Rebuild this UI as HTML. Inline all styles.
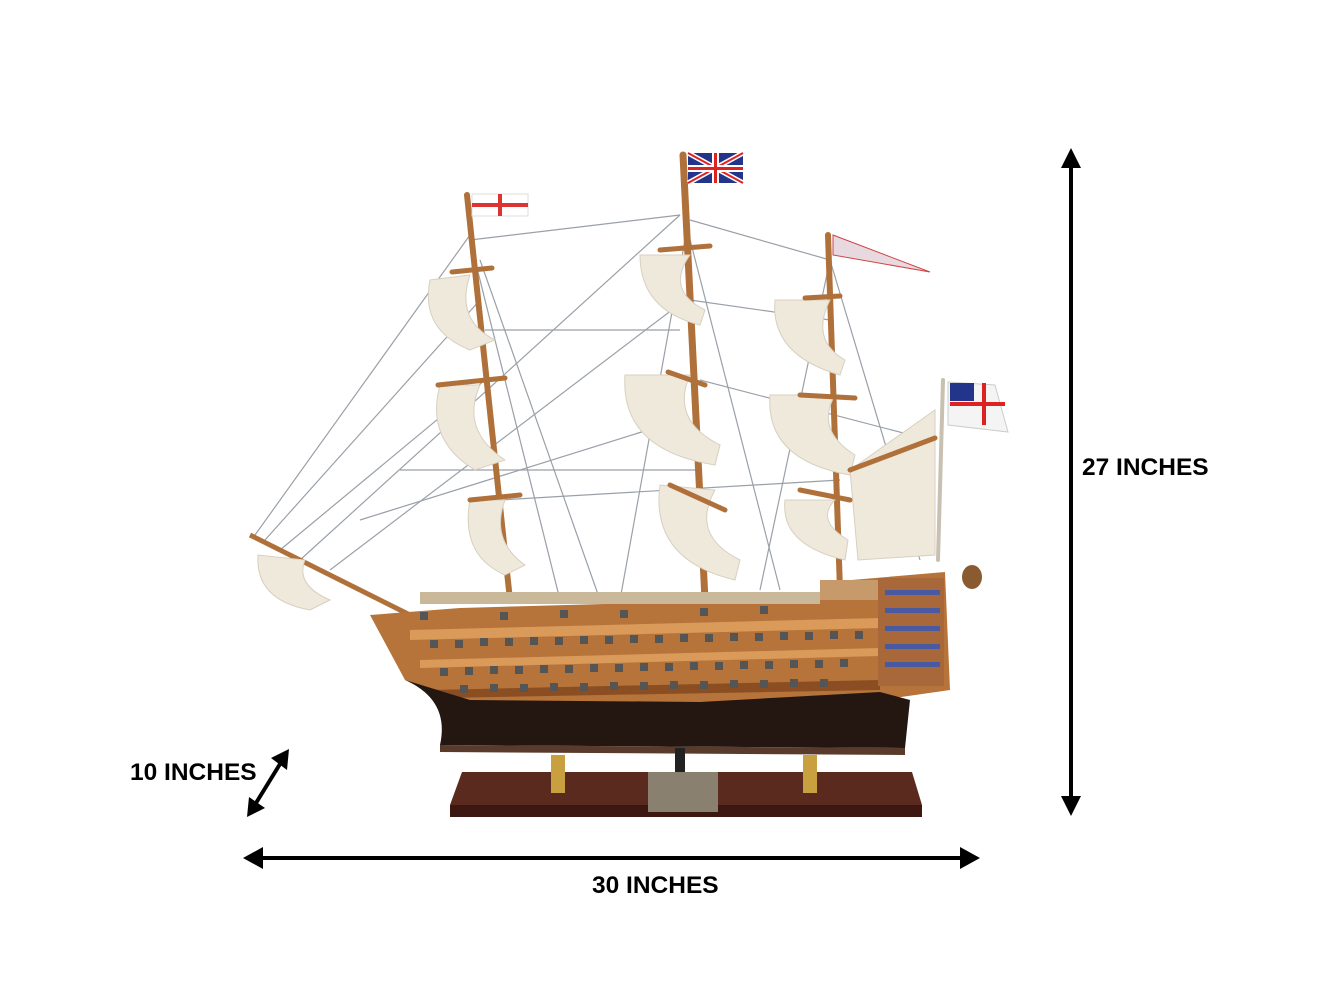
<!DOCTYPE html>
<html><head><meta charset="utf-8"><style>
html,body{margin:0;padding:0;background:#fff;}
svg{display:block;}
text{font-family:"Liberation Sans",Arial,sans-serif;font-weight:bold;fill:#000;}
</style></head><body>
<svg width="1333" height="1000" viewBox="0 0 1333 1000" xmlns="http://www.w3.org/2000/svg">
<rect width="1333" height="1000" fill="#fff"/>
<g stroke="#9aa0a8" stroke-width="1.2" fill="none">
<line x1="255" y1="535" x2="470" y2="235"/>
<line x1="265" y1="540" x2="480" y2="300"/>
<line x1="280" y1="550" x2="485" y2="380"/>
<line x1="300" y1="560" x2="680" y2="215"/>
<line x1="330" y1="570" x2="685" y2="300"/>
<line x1="470" y1="240" x2="680" y2="215"/>
<line x1="485" y1="330" x2="680" y2="330"/>
<line x1="690" y1="220" x2="830" y2="260"/>
<line x1="690" y1="300" x2="830" y2="320"/>
<line x1="470" y1="240" x2="560" y2="600"/>
<line x1="480" y1="260" x2="600" y2="600"/>
<line x1="685" y1="220" x2="780" y2="590"/>
<line x1="685" y1="240" x2="620" y2="600"/>
<line x1="830" y1="260" x2="920" y2="560"/>
<line x1="830" y1="260" x2="760" y2="590"/>
<line x1="400" y1="470" x2="700" y2="470"/>
<line x1="500" y1="500" x2="840" y2="480"/>
<line x1="360" y1="520" x2="680" y2="420"/>
<line x1="700" y1="380" x2="930" y2="440"/>
</g>
<line x1="250" y1="535" x2="410" y2="615" stroke="#b0703a" stroke-width="5"/>
<g stroke="#b0703a" stroke-linecap="round">
<line x1="467" y1="195" x2="510" y2="600" stroke-width="6"/>
<line x1="683" y1="155" x2="705" y2="600" stroke-width="7"/>
<line x1="828" y1="235" x2="840" y2="590" stroke-width="6"/>
<line x1="943" y1="380" x2="938" y2="560" stroke-width="4" stroke="#c8c0b0"/>
</g>
<g fill="#efe9dc" stroke="#d8d0c0" stroke-width="1">
<path d="M430,280 Q420,330 470,350 L495,340 Q455,320 470,275 Z"/>
<path d="M440,385 Q425,440 475,470 L505,460 Q460,430 480,385 Z"/>
<path d="M470,500 Q460,555 505,575 L525,565 Q490,540 505,500 Z"/>
<path d="M640,255 Q640,310 700,325 L705,310 Q665,290 690,255 Z"/>
<path d="M625,375 Q620,450 715,465 L720,445 Q670,420 690,375 Z"/>
<path d="M660,485 Q650,560 735,580 L740,560 Q690,535 715,490 Z"/>
<path d="M775,300 Q770,355 840,375 L845,360 Q810,340 830,300 Z"/>
<path d="M770,395 Q765,460 850,475 L855,455 Q815,430 835,395 Z"/>
<path d="M785,500 Q780,545 845,560 L848,540 Q815,520 835,500 Z"/>
<path d="M850,470 L935,410 L935,555 L858,560 Z"/>
<path d="M258,555 Q255,600 310,610 L330,600 Q295,585 305,560 Z"/>
</g>
<g stroke="#b0703a" stroke-width="5" stroke-linecap="round">
<line x1="452" y1="272" x2="492" y2="268"/><line x1="438" y1="385" x2="505" y2="378"/>
<line x1="470" y1="500" x2="520" y2="495"/><line x1="660" y1="250" x2="710" y2="246"/>
<line x1="668" y1="372" x2="705" y2="385"/><line x1="670" y1="485" x2="725" y2="510"/>
<line x1="805" y1="298" x2="840" y2="296"/><line x1="800" y1="395" x2="855" y2="398"/>
<line x1="800" y1="490" x2="850" y2="500"/><line x1="850" y1="470" x2="935" y2="438"/>
</g>
<rect x="472" y="194" width="56" height="22" fill="#fff" stroke="#ddd"/>
<rect x="498" y="194" width="4" height="22" fill="#d33"/><rect x="472" y="203" width="56" height="4" fill="#d33"/>
<rect x="688" y="153" width="55" height="30" fill="#23358a"/>
<path d="M688,153 L743,183 M743,153 L688,183" stroke="#fff" stroke-width="5"/>
<path d="M688,153 L743,183 M743,153 L688,183" stroke="#d22" stroke-width="2"/>
<rect x="712" y="153" width="7" height="30" fill="#fff"/><rect x="688" y="165" width="55" height="7" fill="#fff"/>
<rect x="714" y="153" width="3" height="30" fill="#d22"/><rect x="688" y="167" width="55" height="3" fill="#d22"/>
<path d="M833,235 L930,272 L833,255 Z" fill="#e8d8e0" stroke="#c44"/>
<path d="M948,382 L995,385 L1008,432 L948,425 Z" fill="#f4f4f4" stroke="#ccc"/>
<rect x="950" y="383" width="24" height="18" fill="#23358a"/>
<rect x="982" y="383" width="4" height="42" fill="#d22"/><rect x="950" y="402" width="55" height="4" fill="#d22"/>
<path d="M370,615 L460,608 L820,598 L828,582 L945,572 L950,690 L880,700 L700,712 L470,706 L405,680 Z" fill="#b6743a"/>
<path d="M410,630 L880,618 L880,628 L410,640 Z" fill="#d99a5a"/>
<path d="M420,660 L880,648 L880,656 L420,668 Z" fill="#d99a5a"/>
<path d="M430,690 L880,680 L880,690 L440,698 Z" fill="#8a4e22"/>
<path d="M405,680 Q450,700 440,745 L905,748 L910,700 L880,692 L700,702 L470,700 Z" fill="#241712"/>
<path d="M440,745 L905,748 L905,755 L440,752 Z" fill="#5a3a2a"/>
<g fill="#555">
<rect x="430" y="640" width="8" height="8"/><rect x="455" y="640" width="8" height="8"/><rect x="480" y="638" width="8" height="8"/><rect x="505" y="638" width="8" height="8"/><rect x="530" y="637" width="8" height="8"/><rect x="555" y="637" width="8" height="8"/><rect x="580" y="636" width="8" height="8"/><rect x="605" y="636" width="8" height="8"/><rect x="630" y="635" width="8" height="8"/><rect x="655" y="635" width="8" height="8"/><rect x="680" y="634" width="8" height="8"/><rect x="705" y="634" width="8" height="8"/><rect x="730" y="633" width="8" height="8"/><rect x="755" y="633" width="8" height="8"/><rect x="780" y="632" width="8" height="8"/><rect x="805" y="632" width="8" height="8"/><rect x="830" y="631" width="8" height="8"/><rect x="855" y="631" width="8" height="8"/>
<rect x="440" y="668" width="8" height="8"/><rect x="465" y="667" width="8" height="8"/><rect x="490" y="666" width="8" height="8"/><rect x="515" y="666" width="8" height="8"/><rect x="540" y="665" width="8" height="8"/><rect x="565" y="665" width="8" height="8"/><rect x="590" y="664" width="8" height="8"/><rect x="615" y="664" width="8" height="8"/><rect x="640" y="663" width="8" height="8"/><rect x="665" y="663" width="8" height="8"/><rect x="690" y="662" width="8" height="8"/><rect x="715" y="662" width="8" height="8"/><rect x="740" y="661" width="8" height="8"/><rect x="765" y="661" width="8" height="8"/><rect x="790" y="660" width="8" height="8"/><rect x="815" y="660" width="8" height="8"/><rect x="840" y="659" width="8" height="8"/>
<rect x="460" y="685" width="8" height="8"/><rect x="490" y="684" width="8" height="8"/><rect x="520" y="684" width="8" height="8"/><rect x="550" y="683" width="8" height="8"/><rect x="580" y="683" width="8" height="8"/><rect x="610" y="682" width="8" height="8"/><rect x="640" y="682" width="8" height="8"/><rect x="670" y="681" width="8" height="8"/><rect x="700" y="681" width="8" height="8"/><rect x="730" y="680" width="8" height="8"/><rect x="760" y="680" width="8" height="8"/><rect x="790" y="679" width="8" height="8"/><rect x="820" y="679" width="8" height="8"/>
<rect x="420" y="612" width="8" height="8"/><rect x="500" y="612" width="8" height="8"/><rect x="560" y="610" width="8" height="8"/><rect x="620" y="610" width="8" height="8"/><rect x="700" y="608" width="8" height="8"/><rect x="760" y="606" width="8" height="8"/>
</g>
<rect x="420" y="592" width="400" height="12" fill="#c9b89a"/>
<rect x="820" y="580" width="70" height="20" fill="#c69a6a"/>
<rect x="878" y="578" width="66" height="108" fill="#a8683a"/>
<g fill="#4a5aa0"><rect x="885" y="590" width="55" height="5"/><rect x="885" y="608" width="55" height="5"/><rect x="885" y="626" width="55" height="5"/><rect x="885" y="644" width="55" height="5"/><rect x="885" y="662" width="55" height="5"/></g>
<ellipse cx="972" cy="577" rx="10" ry="12" fill="#8a5a30"/>
<rect x="675" y="748" width="10" height="25" fill="#222"/>
<path d="M462,772 L912,772 L922,805 L450,805 Z" fill="#5a2a1e"/>
<rect x="450" y="805" width="472" height="12" fill="#3c1810"/>
<g fill="#c9a040"><rect x="551" y="755" width="14" height="38"/><rect x="803" y="755" width="14" height="38"/></g>
<rect x="648" y="772" width="70" height="40" fill="#8a8070"/>
<g stroke="#000" stroke-width="4" fill="#000">
<line x1="1071" y1="165" x2="1071" y2="798"/>
<line x1="260" y1="858" x2="962" y2="858"/>
<line x1="256" y1="803" x2="280" y2="764"/>
</g>
<g fill="#000">
<polygon points="1071,148 1061,168 1081,168"/>
<polygon points="1071,816 1061,796 1081,796"/>
<polygon points="243,858 263,847 263,869"/>
<polygon points="980,858 960,847 960,869"/>
<polygon points="289,749 271,758 287,770"/>
<polygon points="247,817 249,797 265,808"/>
</g>
<text x="1082" y="475" font-size="24.5">27 INCHES</text>
<text x="592" y="893" font-size="24.5">30 INCHES</text>
<text x="130" y="780" font-size="24.5">10 INCHES</text>
</svg>
</body></html>
